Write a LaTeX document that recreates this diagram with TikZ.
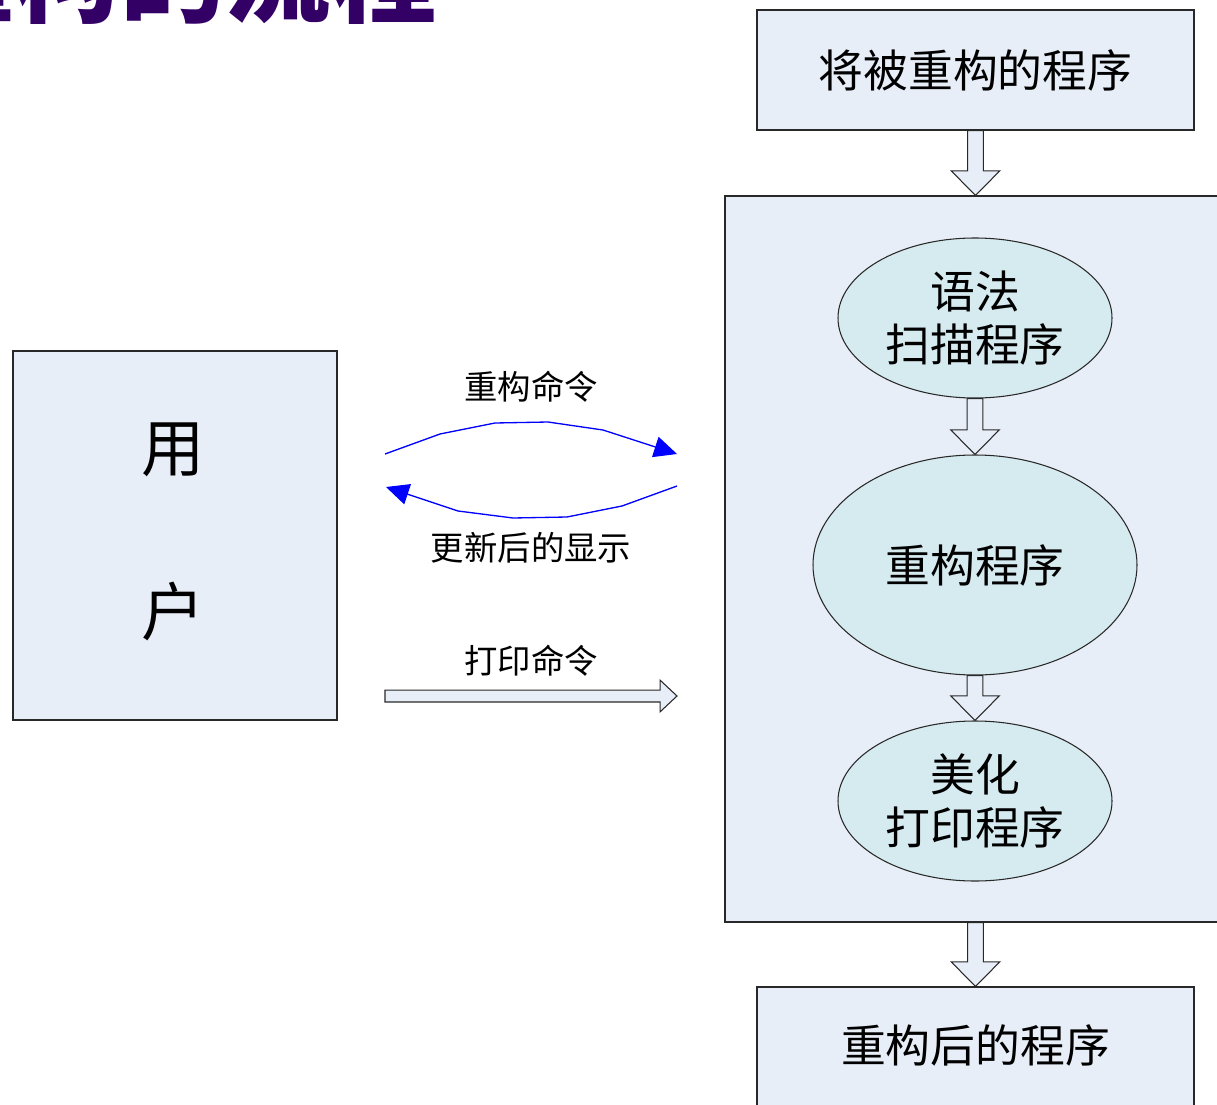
\documentclass[tikz,border=0pt]{standalone}
\usepackage{fontspec}
\setmainfont{Noto Sans CJK SC}
\usetikzlibrary{shapes.geometric,arrows.meta,calc}
\definecolor{boxfill}{RGB}{232,238,248}
\definecolor{ellfill}{RGB}{214,235,240}
\definecolor{titlecol}{RGB}{51,0,102}
\definecolor{edgecol}{RGB}{40,40,40}
\newcommand\blockdown[2]{%
  \filldraw[blockarr] let \p1=(#1), \p2=(#2) in
    (\x1-4.5pt,\y1) -- (\x1-4.5pt,\y2+14pt) -- (\x1-13.8pt,\y2+14pt) -- (\x2,\y2)
    -- (\x1+13.8pt,\y2+14pt) -- (\x1+4.5pt,\y2+14pt) -- (\x1+4.5pt,\y1) -- cycle;}
\begin{document}
\begin{tikzpicture}[x=0.02cm,y=-0.02cm,
  plainbox/.style={draw=edgecol,line width=0.6pt,fill=boxfill,inner sep=0pt},
  ellbox/.style={ellipse,draw=edgecol,line width=0.6pt,fill=ellfill,inner sep=0pt,align=center,
    font=\fontsize{25.5}{30}\selectfont},
  blockarr/.style={draw=edgecol,line width=0.6pt,fill=boxfill},
  bluearr/.style={blue,line width=0.75pt,-{Triangle[length=13pt,width=12pt]}},
  lbl/.style={font=\fontsize{19}{22}\selectfont,inner sep=0pt}]
\useasboundingbox (0,0) rectangle (1217,1105);
\clip (0,0) rectangle (1217,1105);
% title (cut off)
\node[anchor=east,text=titlecol,font=\fontsize{60}{60}\bfseries\selectfont,inner sep=0pt] (title) at (437,-26) {重构的流程};
% container
\node[plainbox,minimum width=496*0.02cm,minimum height=726*0.02cm] (cont) at (973,559) {};
% top and bottom boxes
\node[plainbox,minimum width=437*0.02cm,minimum height=120*0.02cm,font=\fontsize{25.5}{30}\selectfont] (src) at (975.5,70) {将被重构的程序};
\node[plainbox,minimum width=437*0.02cm,minimum height=120*0.02cm] (dst) at (975.5,1047) {};
\node[font=\fontsize{25.5}{30}\selectfont,inner sep=0pt] (dsttxt) at (975.5,1045) {重构后的程序};
% ellipses
\node[ellbox,minimum width=274*0.02cm,minimum height=160*0.02cm] (scan) at (975,318) {语法\\扫描程序};
\node[ellbox,minimum width=324*0.02cm,minimum height=220*0.02cm] (refac) at (975,565) {重构程序};
\node[ellbox,minimum width=274*0.02cm,minimum height=160*0.02cm] (pretty) at (975,801) {美化\\打印程序};
% block arrows
\blockdown{src.south}{cont.north -| src.south}
\blockdown{scan.south}{refac.north}
\blockdown{refac.south}{pretty.north}
\blockdown{cont.south -| dst.north}{dst.north}
% user box
\node[plainbox,minimum width=324*0.02cm,minimum height=369*0.02cm] (user) at (175,535.5) {};
\node[align=center,font=\fontsize{36}{93}\selectfont,inner sep=0pt] (usertxt) at (173,532) {用\\户};
% blue arrows
\coordinate (a1s) at (385,454);
\coordinate (a1e) at (677,454);
\coordinate (a2s) at (677,486);
\coordinate (a2e) at (386,487);
\draw[bluearr] (a1s) -- (440,434) -- (495,423) -- (548,422) -- (603,430) -- (a1e);
\draw[bluearr] (a2s) -- (622,506) -- (567,517) -- (513,518) -- (458,511) -- (a2e);
\node[lbl] (l1) at (531,387) {重构命令};
\node[lbl] (l2) at (531,548) {更新后的显示};
\node[lbl] (l3) at (531,661) {打印命令};
% hollow print arrow
\coordinate (p1s) at (385,696);
\coordinate (p1e) at (677,696);
\filldraw[blockarr] let \p1=(p1s), \p2=(p1e) in
  (\x1,\y1+3.4pt) -- (\x2-9.6pt,\y1+3.4pt) -- (\x2-9.6pt,\y1+9pt) -- (\x2,\y2)
  -- (\x2-9.6pt,\y1-9pt) -- (\x2-9.6pt,\y1-3.4pt) -- (\x1,\y1-3.4pt) -- cycle;
\end{tikzpicture}
\end{document}
